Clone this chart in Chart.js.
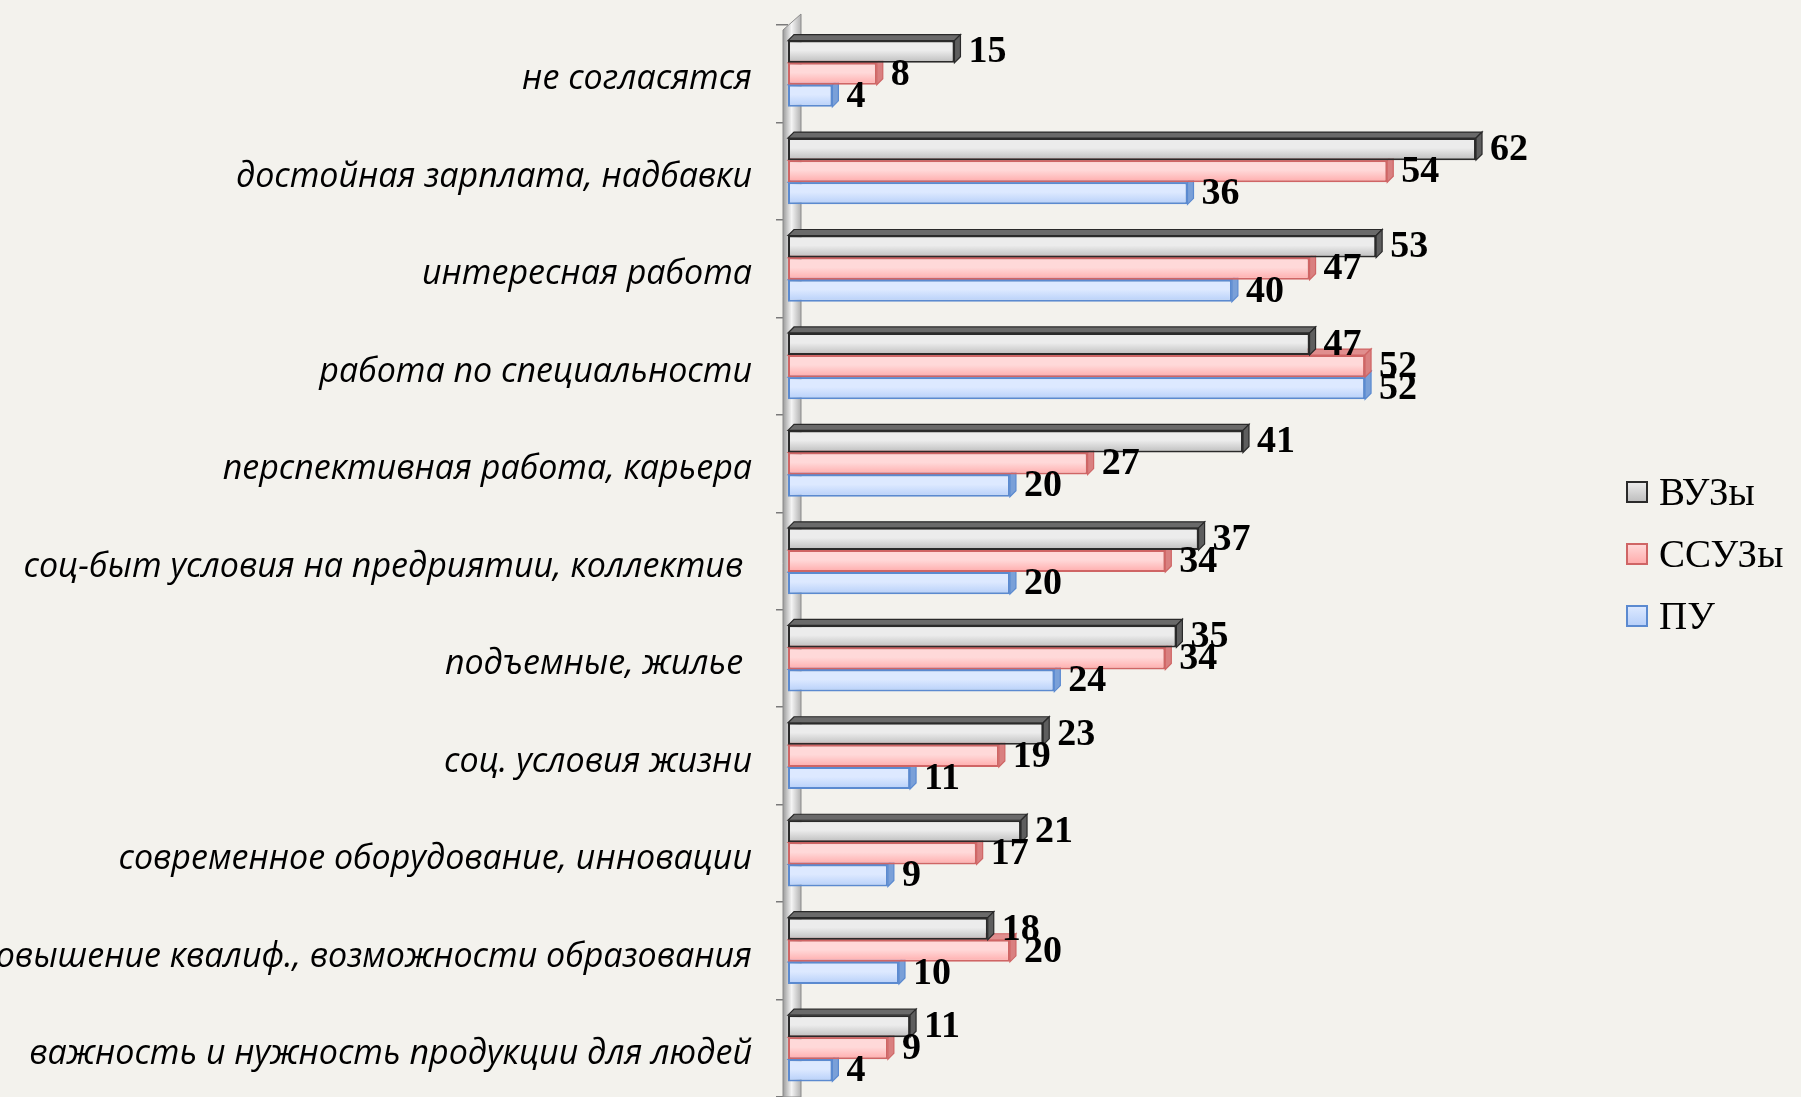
<!DOCTYPE html>
<html>
<head>
<meta charset="utf-8">
<script src="https://cdn.jsdelivr.net/npm/chart.js@4.4.1/dist/chart.umd.min.js"></script>
<style>
html, body { margin: 0; padding: 0; background: #f3f2ed; overflow: hidden; }
#wrap { width: 1801px; height: 1097px; position: relative; }
</style>
</head>
<body>
<div id="wrap"><canvas id="chart-canvas" width="1801" height="1097"></canvas></div>
<script>
// данные с диаграммы
const categories = [
  'не согласятся',
  'достойная зарплата, надбавки',
  'интересная работа',
  'работа по специальности',
  'перспективная работа, карьера',
  'соц-быт условия на предриятии, коллектив ',
  'подъемные, жилье ',
  'соц. условия жизни',
  'современное оборудование, инновации',
  'повышение квалиф., возможности образования',
  'важность и нужность продукции для людей'
];
const seriesNames = ['ВУЗы', 'ССУЗы', 'ПУ'];
const vuzValues  = [15, 62, 53, 47, 41, 37, 35, 23, 21, 18, 11];
const ssuzValues = [8, 54, 47, 52, 27, 34, 34, 19, 17, 20, 9];
const puValues   = [4, 36, 40, 52, 20, 20, 24, 11, 9, 10, 4];

const AXIS_LEFT = 788, X_MAX = 72, PX_PER = 11.1, DEPTH = 6, CAT_PCT = 0.68;

const palette = [
  { top: '#ececec', bot: '#bdbdbd', border: '#2a2a2a', side: '#5e5e5e', lid: '#6a6a6a' },
  { top: '#ffd9d9', bot: '#ffabab', border: '#cf6565', side: '#d98080', lid: '#e08e8e' },
  { top: '#dde9ff', bot: '#b6cff9', border: '#5b8ad0', side: '#7aa0d8', lid: '#9ab8e6' }
];

const barGradient = (c) => {
  const chart = c.chart, ys = chart.scales.y, pal = palette[c.datasetIndex];
  if (!ys || c.dataIndex === undefined || !isFinite(ys.top) || !isFinite(ys.bottom)) return pal.bot;
  const step = (ys.bottom - ys.top) / categories.length;
  const th = step * CAT_PCT / 3;
  const center = ys.getPixelForValue(c.dataIndex) + (c.datasetIndex - 1) * th;
  if (!isFinite(center) || !isFinite(th) || th <= 0) return pal.bot;
  const g = chart.ctx.createLinearGradient(0, center - th / 2, 0, center + th / 2);
  g.addColorStop(0, pal.top); g.addColorStop(0.45, pal.top); g.addColorStop(1, pal.bot);
  return g;
};

// объёмная стенка оси, грани столбиков, подписи и легенда
const wallPlugin = {
  id: 'wall',
  beforeDatasetsDraw(chart) {
    const ctx = chart.ctx, a = chart.chartArea;
    ctx.save();
    const g = ctx.createLinearGradient(a.left - 5, 0, a.left + 14, 0);
    g.addColorStop(0, '#9b9b9b'); g.addColorStop(0.45, '#f4f4f4'); g.addColorStop(1, '#a9a9a9');
    ctx.fillStyle = g;
    ctx.beginPath();
    ctx.moveTo(a.left - 5, a.top + 5);
    ctx.lineTo(a.left + 13, a.top - 11);
    ctx.lineTo(a.left + 13, chart.height);
    ctx.lineTo(a.left - 5, chart.height);
    ctx.closePath(); ctx.fill();
    ctx.strokeStyle = '#8a8a8a'; ctx.lineWidth = 1; ctx.stroke();
    ctx.restore();
  },
  beforeDatasetDraw(chart, args) {
    const ctx = chart.ctx, pal = palette[args.index];
    const meta = chart.getDatasetMeta(args.index);
    ctx.save();
    meta.data.forEach(el => {
      const h = el.height, y0 = el.y - h / 2, y1 = el.y + h / 2, xb = el.base, xe = el.x;
      ctx.fillStyle = pal.lid; ctx.strokeStyle = pal.border; ctx.lineWidth = 1.2;
      ctx.beginPath();
      ctx.moveTo(xb, y0); ctx.lineTo(xb + DEPTH, y0 - DEPTH); ctx.lineTo(xe + DEPTH, y0 - DEPTH); ctx.lineTo(xe, y0);
      ctx.closePath(); ctx.fill(); ctx.stroke();
      ctx.fillStyle = pal.side;
      ctx.beginPath();
      ctx.moveTo(xe, y0); ctx.lineTo(xe + DEPTH, y0 - DEPTH); ctx.lineTo(xe + DEPTH, y1 - DEPTH); ctx.lineTo(xe, y1);
      ctx.closePath(); ctx.fill(); ctx.stroke();
    });
    ctx.restore();
  },
  afterDatasetsDraw(chart) {
    const ctx = chart.ctx;
    ctx.save();
    ctx.font = 'bold 38px "Liberation Serif", "DejaVu Serif", serif';
    ctx.fillStyle = '#000'; ctx.textAlign = 'left'; ctx.textBaseline = 'middle';
    chart.data.datasets.forEach((ds, di) => {
      chart.getDatasetMeta(di).data.forEach((el, i) => {
        ctx.fillText(String(ds.data[i]), el.x + DEPTH + 8, el.y + 1);
      });
    });
    // легенда
    ctx.font = '39px "Liberation Serif", "DejaVu Serif", serif';
    seriesNames.forEach((name, i) => {
      const cy = 492 + i * 62, pal = palette[i];
      const g = ctx.createLinearGradient(0, cy - 10, 0, cy + 10);
      g.addColorStop(0, pal.top); g.addColorStop(1, pal.bot);
      ctx.fillStyle = g; ctx.fillRect(1627, cy - 10, 20, 20);
      ctx.strokeStyle = pal.border; ctx.lineWidth = 2; ctx.strokeRect(1627, cy - 10, 20, 20);
      ctx.fillStyle = '#000'; ctx.fillText(name, 1659, cy + 3);
    });
    ctx.restore();
  }
};

const ds = [vuzValues, ssuzValues, puValues].map((vals, i) => ({
  label: seriesNames[i],
  data: vals,
  backgroundColor: barGradient,
  borderColor: palette[i].border,
  borderWidth: 2,
  borderSkipped: false,
  categoryPercentage: CAT_PCT,
  barPercentage: 1
}));

window.theChart = new Chart(document.getElementById('chart-canvas').getContext('2d'), {
  type: 'bar',
  data: { labels: categories, datasets: ds },
  options: {
    indexAxis: 'y',
    responsive: false,
    animation: false,
    layout: { padding: { top: 25, right: Math.round(1801 - (AXIS_LEFT + X_MAX * PX_PER)), bottom: 0, left: 0 } },
    plugins: { legend: { display: false }, tooltip: { enabled: false } },
    scales: {
      x: { display: false, min: 0, max: X_MAX },
      y: {
        afterFit: (s) => { s.width = AXIS_LEFT; s.paddingTop = 0; s.paddingBottom = 0; },
        border: { display: false },
        grid: { display: true, drawOnChartArea: false, offset: true, tickLength: 12, color: '#7a7a7a', lineWidth: 1.5 },
        ticks: {
          padding: 24,
          labelOffset: 6,
          color: '#000',
          font: { family: '"Open Sans", "DejaVu Sans", sans-serif', size: 34, style: 'italic' }
        }
      }
    }
  },
  plugins: [wallPlugin]
});
</script>
</body>
</html>
